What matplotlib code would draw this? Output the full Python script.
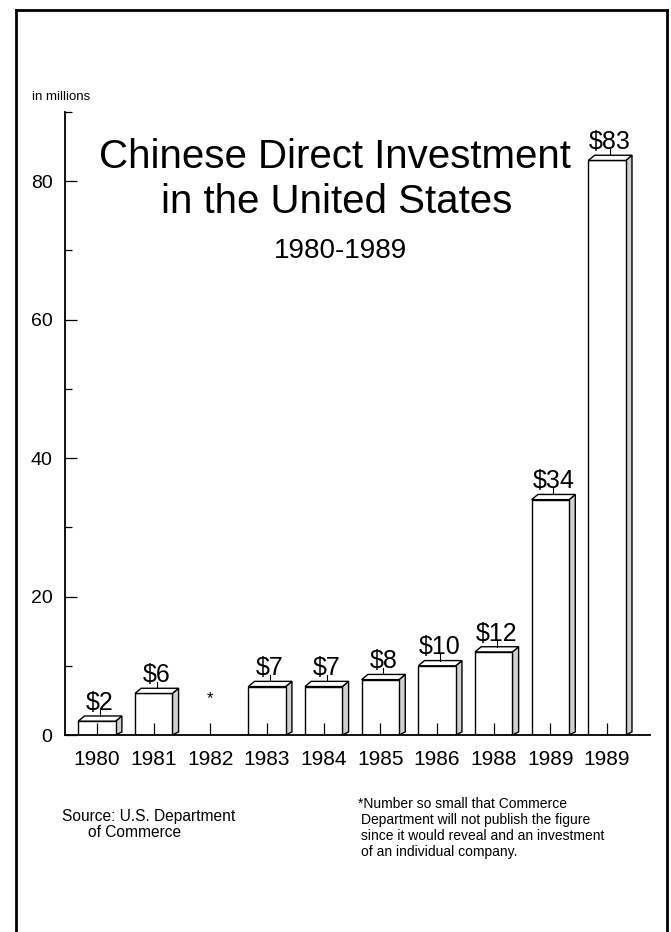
import matplotlib
matplotlib.use("Agg")
import matplotlib.pyplot as plt
from matplotlib.patches import Polygon
from matplotlib.lines import Line2D
from matplotlib.ticker import MultipleLocator

plt.rcParams['font.family'] = ['Liberation Sans', 'DejaVu Sans']

# Chinese direct investment in the US, millions of dollars
years = ["1980", "1981", "1982", "1983", "1984", "1985", "1986", "1988", "1989", "1989"]
values = [2, 6, None, 7, 7, 8, 10, 12, 34, 83]   # 1982 withheld by Commerce
y_major = [0, 20, 40, 60, 80]

title_lines = ["Chinese Direct Investment", "in the United States"]
subtitle = "1980-1989"
unit_label = "in millions"
source_lines = ["Source: U.S. Department", "of Commerce"]
footnote_lines = ["*Number so small that Commerce",
                  "Department will not publish the figure",
                  "since it would reveal and an investment",
                  "of an individual company."]

W, H = 671, 932
fig = plt.figure(figsize=(W / 100, H / 100), dpi=100)
fig.patch.set_facecolor("white")

ax = fig.add_axes([65 / W, (H - 735) / H, (650 - 65) / W, (735 - 112) / H])
ax.set_xlim(-0.564, 9.758)
ax.set_ylim(0, 90)

bar_w = 0.66
dx, dy = 0.11, 0.75   # depth offset of the 3-D faces (x units, value units)

xs = list(range(len(years)))
for x, v in zip(xs, values):
    if v is None:
        ax.text(x, 4.2, "*", ha="center", va="bottom", fontsize=12)
        continue
    l, r = x - bar_w / 2, x + bar_w / 2
    # side face
    ax.add_patch(Polygon([(r, 0), (r, v), (r + dx, v + dy), (r + dx, dy * 0.6)],
                         closed=True, facecolor="#d0d0d0", edgecolor="black",
                         lw=1.0, zorder=1))
    # front face
    ax.add_patch(Polygon([(l, 0), (l, v), (r, v), (r, 0)], closed=True,
                         facecolor="white", edgecolor="black", lw=1.0, zorder=1.2))
    # top face
    ax.add_patch(Polygon([(l, v), (l + dx, v + dy), (r + dx, v + dy), (r, v)],
                         closed=True, facecolor="white", edgecolor="black",
                         lw=1.0, zorder=1.3))
    # value label with short leader
    cx = x + dx / 2
    ax.plot([cx, cx], [v + dy, v + dy + 0.9], color="black", lw=0.8, zorder=1.4)
    ax.text(cx, v + dy + 0.9, f"${v}", ha="center", va="baseline", fontsize=18)

for side in ("top", "right"):
    ax.spines[side].set_visible(False)
for side in ("left", "bottom"):
    ax.spines[side].set_linewidth(1.3)

ax.set_xticks(xs)
ax.set_xticklabels(years, fontsize=15)
ax.set_yticks(y_major)
ax.set_yticklabels([str(t) for t in y_major], fontsize=14)
ax.yaxis.set_minor_locator(MultipleLocator(10))
ax.tick_params(axis="x", direction="in", length=8.5, width=0.9, pad=11)
ax.tick_params(axis="y", which="major", direction="in", length=8.5, width=0.9, pad=9)
ax.tick_params(axis="y", which="minor", direction="in", length=5, width=0.9)

# title block
fig.text(335 / W, 1 - 168 / H, title_lines[0], ha="center", va="baseline", fontsize=29)
fig.text(337 / W, 1 - 213 / H, title_lines[1], ha="center", va="baseline", fontsize=29)
fig.text(340 / W, 1 - 258 / H, subtitle, ha="center", va="baseline", fontsize=20)
fig.text(32 / W, 1 - 100 / H, unit_label, ha="left", va="baseline", fontsize=9.5)

# notes
fig.text(62 / W, 1 - 821 / H, source_lines[0], ha="left", va="baseline", fontsize=11.2)
fig.text(88 / W, 1 - 837 / H, source_lines[1], ha="left", va="baseline", fontsize=11.2)
for i, line in enumerate(footnote_lines):
    fig.text((358 if i == 0 else 361) / W, 1 - (808 + 16 * i) / H, line,
             ha="left", va="baseline", fontsize=10)

# page frame
for xs_, ys_ in (([16, 16], [H, 10]), ([16, 667], [10, 10]), ([667, 667], [10, H])):
    fig.add_artist(Line2D([v / W for v in xs_], [1 - v / H for v in ys_],
                          transform=fig.transFigure, color="black", lw=2.0))

fig.savefig("out.png", dpi=100)
